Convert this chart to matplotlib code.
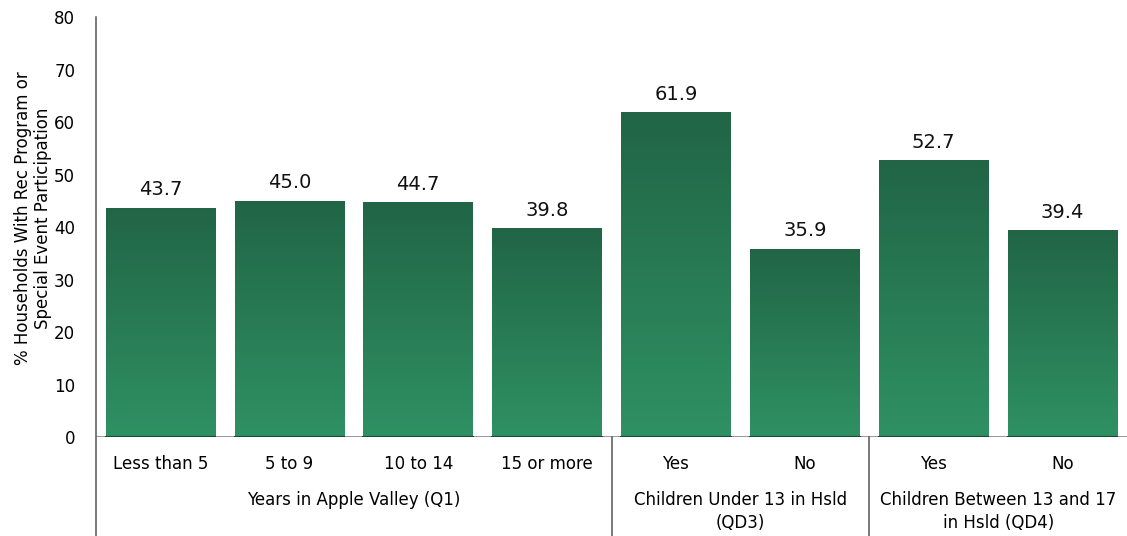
import numpy as np
import matplotlib
matplotlib.use("Agg")
import matplotlib.pyplot as plt
import matplotlib.transforms as mtransforms
from matplotlib.colors import LinearSegmentedColormap

categories = ["Less than 5", "5 to 9", "10 to 14", "15 or more", "Yes", "No", "Yes", "No"]
values = [43.7, 45.0, 44.7, 39.8, 61.9, 35.9, 52.7, 39.4]
groups = ["Years in Apple Valley (Q1)",
          "Children Under 13 in Hsld\n(QD3)",
          "Children Between 13 and 17\nin Hsld (QD4)"]
group_spans = [(0, 3), (4, 5), (6, 7)]

plt.rcParams["font.family"] = "DejaVu Sans"

fig = plt.figure(figsize=(11.27, 5.36), dpi=100)
ax = fig.add_axes([0.0852, 0.1847, 0.9148, 0.7835])

x = np.arange(len(categories))
bars = ax.bar(x, values, width=0.85, color="none", edgecolor="none", zorder=2)

# vertical gradient inside each bar, dark at top
cmap = LinearSegmentedColormap.from_list("grn", ["#2f9163", "#216546"])
grad = np.linspace(0, 1, 256).reshape(-1, 1)
for b in bars:
    x0, w, h = b.get_x(), b.get_width(), b.get_height()
    im = ax.imshow(grad, cmap=cmap, origin="lower", aspect="auto",
                   extent=[x0, x0 + w, 0, h], zorder=2)
    im.set_clip_path(b)
    ax.plot([x0, x0 + w], [0, 0], color="#1a4a33", lw=1.5, zorder=3)

for xi, v in zip(x, values):
    ax.annotate(f"{v:.1f}", (xi, v), xytext=(0, 6), textcoords="offset points",
                ha="center", va="bottom", fontsize=14, color="#111111")

ax.set_xlim(-0.5, len(categories) - 0.5)
ax.set_ylim(0, 80)
ax.set_yticks(range(0, 81, 10))
ax.tick_params(axis="y", length=0, pad=15, labelsize=12)
ax.set_xticks([])
ax.axhline(0, color="#888888", lw=1.2, zorder=1)

for s in ["top", "right", "bottom", "left"]:
    ax.spines[s].set_visible(False)

ax.set_ylabel("% Households With Rec Program or\nSpecial Event Participation",
              fontsize=12, linespacing=1.15)
ax.yaxis.set_label_coords(-0.043, 0.52)

trans = mtransforms.blended_transform_factory(ax.transData, ax.transAxes)
bottom = -0.1847 / 0.7835

# category labels
for xi, c in zip(x, categories):
    ax.text(xi, -0.065, c, transform=trans, ha="center", va="center", fontsize=12)

# group labels and separators
for g, (a, b) in zip(groups, group_spans):
    ax.text((a + b) / 2, -0.128, g, transform=trans, ha="center", va="top",
            fontsize=12, linespacing=1.35)
for sx in [-0.5, 3.5, 5.5]:
    ax.plot([sx, sx], [bottom, 0 if sx > -0.5 else 1], transform=trans,
            color="#555555", lw=1.1, clip_on=False)

fig.savefig("out.png", dpi=100, facecolor="white")
